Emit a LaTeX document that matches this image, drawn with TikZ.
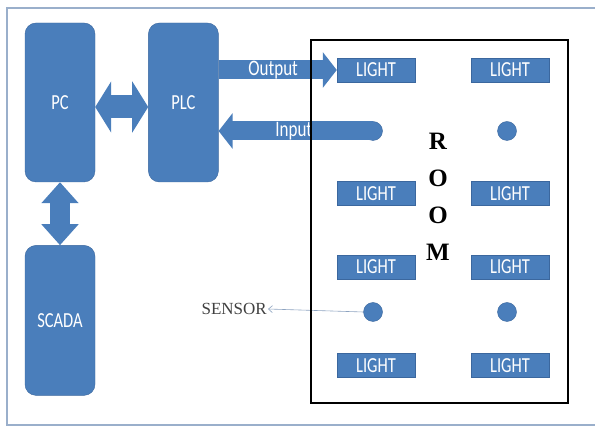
\documentclass[tikz,border=0pt]{standalone}
\usepackage{graphicx}
\usepackage{fontspec}
\setmainfont{Liberation Serif}
\newfontfamily\calibri{Carlito}
\usetikzlibrary{positioning,arrows.meta}
\definecolor{blockblue}{HTML}{4A7EBB}
\definecolor{blockedge}{HTML}{3B679E}
\definecolor{framegray}{HTML}{9AAFCB}
\definecolor{thinblue}{HTML}{8DA3C0}
\newcommand{\tallbox}[1]{\scalebox{1}[1.3]{#1}}

\begin{document}
\begin{tikzpicture}[x=1pt, y=-1pt,
        block/.style={draw=blockedge, fill=blockblue, rounded corners=11pt, minimum width=70pt, inner sep=0pt, text=white, font=\calibri\fontsize{16.5}{18}\selectfont},
        light/.style={draw=blockedge, fill=blockblue, minimum width=78pt, minimum height=24pt, inner sep=0pt, text=white, font=\calibri\fontsize{16.5}{18}\selectfont},
        sensordot/.style={circle, draw=blockedge, fill=blockblue, minimum size=19pt, inner sep=0pt},
        fatarrow/.style={draw=blockblue, line width=19pt, -{Triangle[width=35pt,length=14pt]}},
        arrowlabel/.style={text=white, font=\calibri\fontsize{17}{18}\selectfont},
        biarrow/.style={draw=blockblue, line width=#1, {Triangle[width=2.2*#1,length=16pt]}-{Triangle[width=2.2*#1,length=16pt]}},
        thinarrow/.style={draw=thinblue, line width=0.6pt, -{Straight Barb[length=4pt,width=7pt]}}
    ]
        \useasboundingbox (0,0) rectangle (595,427);
        \draw[framegray, line width=1.3pt] (597,8) -- (7,8) -- (7,425) -- (597,425);

        % control side
        \node[block, minimum height=159pt] (pc) at (60,102.5) {\tallbox{PC}};
        \node[block, minimum height=159pt, right=53pt of pc] (plc) {\tallbox{PLC}};
        \node[block, minimum height=150pt, below=63pt of pc] (scada) {\tallbox{SCADA}};

        % lights and sensors in the room
        \node[light] (l11) at (376,70) {\tallbox{LIGHT}};
        \node[light] (l12) at (510,70) {\tallbox{LIGHT}};
        \node[light] (l21) at (376,193.5) {\tallbox{LIGHT}};
        \node[light] (l22) at (510,193.5) {\tallbox{LIGHT}};
        \node[light] (l31) at (376,267) {\tallbox{LIGHT}};
        \node[light] (l32) at (510,267) {\tallbox{LIGHT}};
        \node[light] (l41) at (376,365.5) {\tallbox{LIGHT}};
        \node[light] (l42) at (510,365.5) {\tallbox{LIGHT}};
        \node[sensordot] (s11) at (373,131) {};
        \node[sensordot] (s12) at (507,131) {};
        \node[sensordot] (s21) at (373,312) {};
        \node[sensordot] (s22) at (507,312) {};

        \node[font=\bfseries\fontsize{25}{37}\selectfont, align=center] (roomlabel) at (438,197) {R\\O\\O\\M};
        \node[anchor=east, inner sep=1pt, text=black!75, font=\fontsize{17}{19}\selectfont] (sensor) at (268,309) {SENSOR};

        % connectors
        \draw[biarrow=23pt] ([yshift=-4.5pt]pc.east) -- ([yshift=-4.5pt]plc.west);
        \draw[draw=blockblue, line width=20pt, {Triangle[width=36pt,length=21pt]}-{Triangle[width=36pt,length=21pt]}] (pc.south) -- (scada.north);
        \draw[fatarrow] (plc.east |- l11) -- (l11.west) node[midway, arrowlabel, xshift=-4.5pt] {\tallbox{Output}};
        \draw[fatarrow] (s11.center) -- (plc.east |- s11) node[midway, arrowlabel, xshift=-2pt] {\tallbox{Input}};
        \draw[thinarrow] (s21.west) -- (sensor.east);

        \node[draw=black, line width=2pt, minimum width=257pt, minimum height=363pt, inner sep=0pt] (room) at (439.5,221.5) {};
    \end{tikzpicture}
\end{document}
